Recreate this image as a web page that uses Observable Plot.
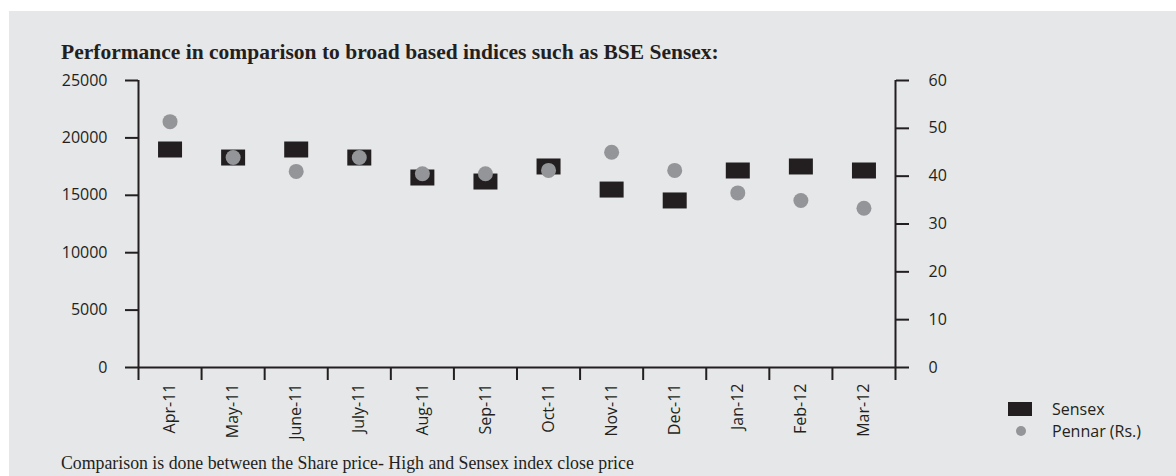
<!DOCTYPE html>
<html>
<head>
<meta charset="utf-8">
<script src="https://cdn.jsdelivr.net/npm/d3@7"></script>
<script src="https://cdn.jsdelivr.net/npm/@observablehq/plot@0.6"></script>
<style>
  html, body { margin: 0; padding: 0; background: #ffffff; width: 1176px; height: 476px; overflow: hidden; }
  #bg { position: absolute; left: 9px; top: 11px; right: 0; bottom: 0; background: #e6e7e8; }
  #chart { position: absolute; left: 0; top: 0; }
  #title { position: absolute; left: 61px; top: 42px; font: bold 21.5px/21.5px "Liberation Serif", serif; color: #231f20; white-space: nowrap; }
  #footer { position: absolute; left: 61px; top: 455px; font: 17.8px/17.8px "Liberation Serif", serif; color: #231f20; white-space: nowrap; }
  #legend { position: absolute; left: 1000px; top: 398px; font: 16px "Open Sans", sans-serif; color: #231f20; }
  .item { display: flex; align-items: center; height: 22px; }
  .item svg { width: 40px; height: 22px; margin-right: 12px; }
</style>
</head>
<body>
<div id="bg"></div>
<div id="chart"></div>
<div id="title"></div>
<div id="footer"></div>
<div id="legend"></div>
<script>
const titleText = "Performance in comparison to broad based indices such as BSE Sensex:";
const footerText = "Comparison is done between the Share price- High and Sensex index close price";
const months = ["Apr-11","May-11","June-11","July-11","Aug-11","Sep-11","Oct-11","Nov-11","Dec-11","Jan-12","Feb-12","Mar-12"];
const sensex = [18990, 18290, 18990, 18290, 16550, 16200, 17510, 15500, 14550, 17160, 17510, 17160];
const pennar = [51.4, 43.9, 41.0, 43.9, 40.5, 40.5, 41.2, 45.0, 41.2, 36.5, 34.9, 33.3];
const leftTicks = [0, 5000, 10000, 15000, 20000, 25000];
const rightTicks = [0, 10, 20, 30, 40, 50, 60];
const seriesNames = ["Sensex", "Pennar (Rs.)"];

const dark = "#231f20";
const grey = "#939598";
const k = 25000 / 60; // right axis (Rs.) to left axis (Sensex) conversion

const rows = months.map((m, i) => ({month: m, i, sensex: sensex[i], pennar: pennar[i]}));

const rectSymbol = { draw(ctx) { ctx.moveTo(-12, -8); ctx.lineTo(12, -8); ctx.lineTo(12, 8); ctx.lineTo(-12, 8); ctx.closePath(); } };

const chart = Plot.plot({
  width: 1176,
  height: 476,
  marginLeft: 138,
  marginRight: 281,
  marginTop: 80,
  marginBottom: 109,
  style: { background: "transparent", fontFamily: "'Open Sans', sans-serif", fontSize: "16px", color: dark, overflow: "visible" },
  x: { type: "linear", domain: [0, months.length], label: null },
  y: { domain: [0, 25000], label: null },
  marks: [
    Plot.axisY({ anchor: "left", ticks: leftTicks, tickSize: 13, tickPadding: 18, strokeWidth: 2, stroke: dark, tickFormat: d => String(d), label: null }),
    Plot.axisY({ anchor: "right", ticks: rightTicks.map(v => v * k), tickSize: 13, tickPadding: 20, strokeWidth: 2, stroke: dark, tickFormat: d => String(Math.round(d / k)), label: null }),
    Plot.axisX({ ticks: d3.range(months.length + 1), tickSize: 13, strokeWidth: 2, stroke: dark, tickFormat: () => "", label: null }),
    Plot.axisX({ ticks: months.map((m, i) => i + 0.5), tickSize: 0, tickPadding: 16, tickRotate: -90, tickFormat: d => months[Math.floor(d)], label: null, fontSize: 16 }),
    Plot.ruleX([0, months.length], { stroke: dark, strokeWidth: 2 }),
    Plot.ruleY([0], { stroke: dark, strokeWidth: 2 }),
    Plot.dot(rows, { x: d => d.i + 0.5, y: "sensex", symbol: rectSymbol, fill: dark, stroke: null }),
    Plot.dot(rows, { x: d => d.i + 0.5, y: d => d.pennar * k, r: 7.5, fill: grey, stroke: null })
  ]
});
document.getElementById("chart").appendChild(chart);
document.getElementById("title").textContent = titleText;
document.getElementById("footer").textContent = footerText;

const legend = document.getElementById("legend");
seriesNames.forEach((name, j) => {
  const item = document.createElement("div");
  item.className = "item";
  const sw = j === 0
    ? `<svg><rect x="8" y="4" width="24" height="14" fill="${dark}"/></svg>`
    : `<svg><circle cx="21" cy="11" r="5" fill="${grey}"/></svg>`;
  item.innerHTML = sw + `<span>${name}</span>`;
  legend.appendChild(item);
});
</script>
</body>
</html>
